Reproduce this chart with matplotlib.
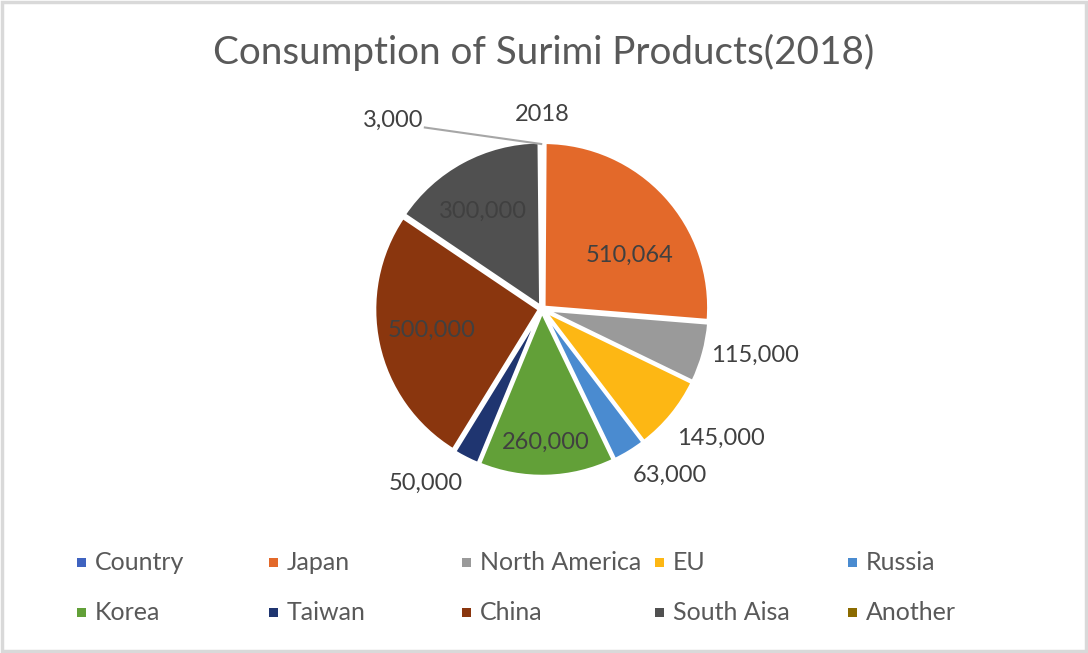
import numpy as np
import matplotlib
matplotlib.use('Agg')
import matplotlib.pyplot as plt
from matplotlib.patches import Rectangle

## data
categories = ['Country', 'Japan', 'North America', 'EU', 'Russia',
              'Korea', 'Taiwan', 'China', 'South Aisa', 'Another']
values = [2018, 510064, 115000, 145000, 63000, 260000, 50000, 500000, 300000, 3000]
value_labels = ['2018', '510,064', '115,000', '145,000', '63,000',
                '260,000', '50,000', '500,000', '300,000', '3,000']
title = 'Consumption of Surimi Products(2018)'

colors = ['#3F63C0', '#E3692A', '#9A9A9A', '#FDB714', '#4A8BD0',
          '#62A038', '#1F3570', '#8A360E', '#505050', '#8B6B00']
# label placement: radius (pie radius = 1) and angle shift in degrees
label_r = [1.18, 0.62, 1.32, 1.34, 1.27, 0.81, 1.27, 0.68, 0.69, None]
label_da = [0, 11, -3, -3.5, -6, 0, 6.7, 1.4, -3, 0]

plt.rcParams['font.family'] = ['Lato', 'DejaVu Sans']
W, H = 1088, 653
fig = plt.figure(figsize=(W / 100, H / 100), dpi=100)

# chart area border
fig.add_artist(Rectangle((2 / W, 2 / H), 1 - 4 / W, 1 - 4 / H, transform=fig.transFigure,
                         fill=False, edgecolor='#D9D9D9', lw=2.5))

R = 165  # pie radius, px
cx, cy = 542, H - 309
span = 1.6
ax = fig.add_axes([(cx - span * R) / W, (cy - span * R) / H, 2 * span * R / W, 2 * span * R / H])

wedges, _ = ax.pie(values, colors=colors, startangle=90, counterclock=False,
                   explode=[0.015] * len(values),
                   wedgeprops=dict(edgecolor='white', linewidth=2.5))
ax.set_xlim(-span, span)
ax.set_ylim(-span, span)
ax.set_aspect('equal')
ax.axis('off')

total = float(sum(values))
cum = np.cumsum([0] + values)
txt_col = '#404040'
fs = 17
for i, lab in enumerate(value_labels):
    if label_r[i] is None:
        continue
    # clockwise from top
    mid = (cum[i] + values[i] / 2.) / total * 2 * np.pi + np.radians(label_da[i])
    r = label_r[i]
    ax.text(r * np.sin(mid), r * np.cos(mid), lab, ha='center', va='center',
            fontsize=fs, color=txt_col, clip_on=False)

# "Another" label with leader line
mid = (cum[-2] + values[-1] / 2.) / total * 2 * np.pi
ex, ey = 1.0 * np.sin(mid), 1.0 * np.cos(mid)
ax.plot([ex, -0.71], [ey, 1.1], color='#A6A6A6', lw=1.5, clip_on=False)
ax.text(-0.72, 1.145, value_labels[-1], ha='right', va='center',
        fontsize=fs, color=txt_col, clip_on=False)

fig.text(0.5, 1 - 52 / H, title, ha='center', va='center', fontsize=27.8, color='#595959')

# legend, 5 columns x 2 rows
col_x = [81, 273, 466, 659, 852]
row_y = [562, 612]
for i, name in enumerate(categories):
    x = col_x[i % 5]
    y = row_y[i // 5]
    fig.add_artist(Rectangle(((x - 4.5) / W, (H - y - 4.5) / H), 9 / W, 9 / H,
                             transform=fig.transFigure, facecolor=colors[i], edgecolor='none'))
    fig.text((x + 14) / W, 1 - y / H, name, ha='left', va='center', fontsize=18, color='#595959')

fig.savefig('out.png', dpi=100)
